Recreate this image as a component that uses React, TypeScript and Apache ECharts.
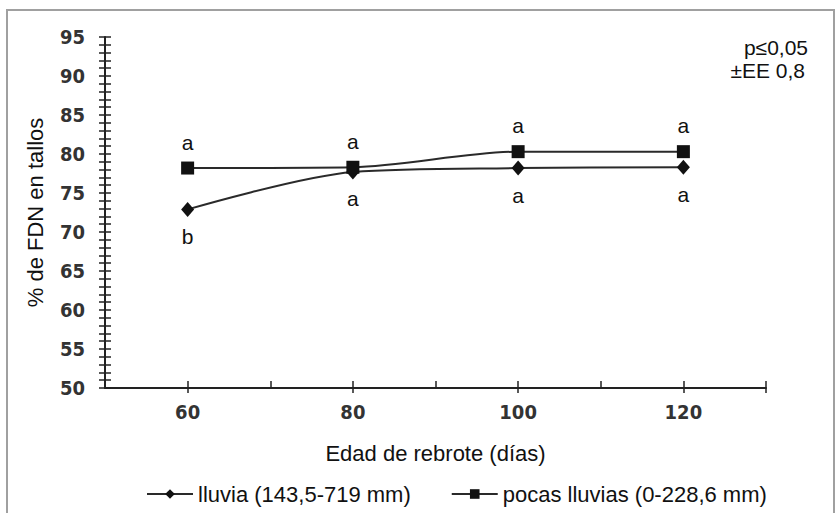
import React, { useEffect, useRef } from "react";
import * as echarts from "echarts";

const categories = [60, 80, 100, 120];
const lluvia = [72.9, 77.7, 78.2, 78.3];
const pocas = [78.2, 78.3, 80.3, 80.3];
const lluviaLetters = ["b", "a", "a", "a"];
const pocasLetters = ["a", "a", "a", "a"];
const xLabelValues = [60, 80, 100, 120];
const xOuterTickValues = [60, 80, 100, 120, 130];
const seriesNames = ["lluvia (143,5-719 mm)", "pocas lluvias (0-228,6 mm)"];
const noteLines = ["p≤0,05", "±EE 0,8"];

const tickFont = "'Liberation Sans Narrow', 'DejaVu Sans Condensed', sans-serif";
const textFont = "'Liberation Sans', Arial, sans-serif";

export default function App() {
  const ref = useRef<HTMLDivElement>(null);
  useEffect(() => {
    if (!ref.current) return;
    const chart = echarts.init(ref.current, null, { renderer: "svg" });
    const lineColor = "#2a2a2a";
    const axisColor = "#222";
    const yTickAxis = (inside: boolean) => ({
      type: "value",
      min: 50,
      max: 95,
      interval: 1,
      position: "left",
      axisLine: { show: false },
      axisTick: { show: true, inside, length: 6, lineStyle: { color: axisColor, width: 1.5 } },
      axisLabel: { show: false },
      splitLine: { show: false },
    });
    chart.setOption({
      animation: false,
      backgroundColor: "#fff",
      grid: { left: 105, right: 71, top: 37, bottom: 125, containLabel: false },
      legend: {
        left: 141,
        top: 478,
        itemGap: 40,
        itemWidth: 46,
        itemHeight: 12,
        textStyle: { fontFamily: textFont, fontSize: 22, color: "#111" },
        data: [seriesNames[0], seriesNames[1]],
      },
      xAxis: [
        {
          type: "value",
          min: 50,
          max: 130,
          interval: 10,
          name: "Edad de rebrote (días)",
          nameLocation: "middle",
          nameGap: 54,
          nameTextStyle: { fontFamily: textFont, fontSize: 22, color: "#111" },
          axisLine: { show: true, lineStyle: { color: axisColor, width: 2 } },
          axisTick: { show: true, inside: true, length: 7, lineStyle: { color: axisColor, width: 1.5 } },
          axisLabel: {
            customValues: xLabelValues,
            margin: 14,
            fontFamily: tickFont,
            fontWeight: "bold",
            fontSize: 20,
            color: "#333",
          },
          splitLine: { show: false },
        },
        {
          type: "value",
          min: 50,
          max: 130,
          interval: 10,
          position: "bottom",
          axisLine: { show: false },
          axisTick: {
            show: true,
            inside: false,
            length: 5,
            customValues: xOuterTickValues,
            lineStyle: { color: axisColor, width: 1.5 },
          },
          axisLabel: { show: false },
          splitLine: { show: false },
        },
      ],
      yAxis: [
        {
          type: "value",
          min: 50,
          max: 95,
          interval: 5,
          name: "% de FDN en tallos",
          nameLocation: "middle",
          nameGap: 59,
          nameTextStyle: { fontFamily: textFont, fontSize: 22, color: "#111" },
          axisLine: { show: true, lineStyle: { color: axisColor, width: 2 } },
          axisTick: { show: false },
          axisLabel: {
            margin: 20,
            fontFamily: tickFont,
            fontWeight: "bold",
            fontSize: 20,
            color: "#333",
          },
          splitLine: { show: false },
        },
        yTickAxis(true),
        yTickAxis(false),
      ],
      series: [
        {
          name: seriesNames[0],
          type: "line",
          smooth: 0.3,
          symbol: "diamond",
          symbolSize: [13, 15],
          data: categories.map((c, i) => [c, lluvia[i]]),
          lineStyle: { color: lineColor, width: 2 },
          itemStyle: { color: "#111" },
          label: {
            show: true,
            position: "bottom",
            distance: 9,
            fontFamily: textFont,
            fontSize: 21,
            color: "#111",
            formatter: (p: any) => lluviaLetters[p.dataIndex],
          },
          z: 3,
        },
        {
          name: seriesNames[1],
          type: "line",
          smooth: 0.3,
          symbol: "rect",
          symbolSize: 13,
          data: categories.map((c, i) => [c, pocas[i]]),
          lineStyle: { color: lineColor, width: 2 },
          itemStyle: { color: "#111" },
          label: {
            show: true,
            position: "top",
            distance: 9,
            fontFamily: textFont,
            fontSize: 21,
            color: "#111",
            formatter: (p: any) => pocasLetters[p.dataIndex],
          },
          z: 4,
        },
      ],
      graphic: [
        {
          type: "rect",
          shape: { x: 7, y: 10, width: 827, height: 520 },
          style: { fill: "none", stroke: "#a0a0a0", lineWidth: 2 },
          silent: true,
        },
        {
          type: "text",
          x: 808,
          y: 37,
          style: {
            text: noteLines[0],
            align: "right",
            verticalAlign: "top",
            fontFamily: textFont,
            fontSize: 21,
            fill: "#111",
          },
        },
        {
          type: "text",
          x: 805,
          y: 60,
          style: {
            text: noteLines[1],
            align: "right",
            verticalAlign: "top",
            fontFamily: textFont,
            fontSize: 21,
            fill: "#111",
          },
        },
      ],
    });
    return () => chart.dispose();
  }, []);
  return (
    <div
      ref={ref}
      style={{ position: "absolute", left: 0, top: 0, width: 837, height: 513 }}
    />
  );
}
